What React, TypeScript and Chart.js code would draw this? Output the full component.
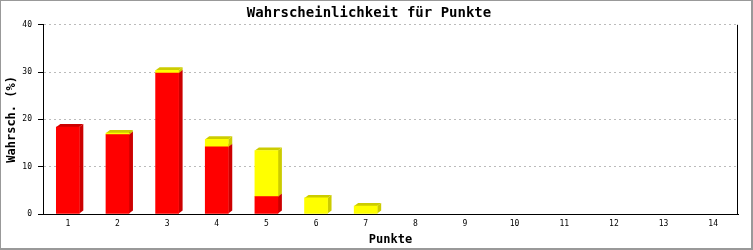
import React, { useEffect, useRef } from "react";
import { Chart, registerables } from "chart.js";

Chart.register(...registerables);

const categories = ["1", "2", "3", "4", "5", "6", "7", "8", "9", "10", "11", "12", "13", "14"];
const redValues = [18.4, 16.8, 29.8, 14.2, 3.7, 0, 0, 0, 0, 0, 0, 0, 0, 0];
const yellowValues = [0, 0.3, 0.6, 1.6, 9.7, 3.4, 1.7, 0, 0, 0, 0, 0, 0, 0];
const yTicks = [0, 10, 20, 30, 40];

const titleText = "Wahrscheinlichkeit für Punkte";
const xTitle = "Punkte";
const yTitle = "Wahrsch. (%)";

const frontColors = ["#ff0000", "#ffff00"];
const darkColors = ["#cc0000", "#cccc00"];

const MONO = "'DejaVu Sans Mono', 'Liberation Mono', monospace";

const nonZero = (arr: number[]) => arr.map((v) => (v === 0 ? null : v));

const frame3d = {
  id: "frame3d",
  beforeDraw(chart: any) {
    const ctx = chart.ctx;
    ctx.save();
    ctx.fillStyle = "#ffffff";
    ctx.fillRect(0, 0, chart.width, chart.height);
    ctx.restore();
  },
  beforeDatasetsDraw(chart: any) {
    const ctx = chart.ctx;
    const dx = 4;
    const dy = 3;
    const n = chart.data.labels.length;
    ctx.save();
    for (let i = 0; i < n; i++) {
      for (let d = 0; d < chart.data.datasets.length; d++) {
        const meta = chart.getDatasetMeta(d);
        const el = meta.data[i];
        if (!el) continue;
        const p = el.getProps(["x", "y", "base", "width"], true);
        if (!isFinite(p.y) || !isFinite(p.base) || !isFinite(p.x)) continue;
        const top = Math.min(p.y, p.base);
        const bottom = Math.max(p.y, p.base);
        if (bottom - top < 0.5) continue;
        const left = p.x - p.width / 2;
        const right = p.x + p.width / 2;
        ctx.fillStyle = darkColors[d];
        ctx.beginPath();
        ctx.moveTo(right, top);
        ctx.lineTo(right + dx, top - dy);
        ctx.lineTo(right + dx, bottom - dy);
        ctx.lineTo(right, bottom);
        ctx.closePath();
        ctx.fill();
        ctx.beginPath();
        ctx.moveTo(left, top);
        ctx.lineTo(left + dx, top - dy);
        ctx.lineTo(right + dx, top - dy);
        ctx.lineTo(right, top);
        ctx.closePath();
        ctx.fill();
      }
    }
    ctx.restore();
  },
  afterDraw(chart: any) {
    const ctx = chart.ctx;
    const a = chart.chartArea;
    ctx.save();
    ctx.strokeStyle = "#000000";
    ctx.lineWidth = 1;
    ctx.beginPath();
    ctx.moveTo(Math.round(a.right) - 0.5, a.top);
    ctx.lineTo(Math.round(a.right) - 0.5, a.bottom);
    ctx.stroke();
    ctx.fillStyle = "#999999";
    const w = chart.width;
    const h = chart.height;
    ctx.fillRect(0, 0, w, 1);
    ctx.fillRect(0, 0, 1, h);
    ctx.fillRect(w - 2, 0, 2, h);
    ctx.fillRect(0, h - 2, w, 2);
    ctx.restore();
  },
};

export default function App() {
  const ref = useRef<HTMLCanvasElement | null>(null);

  useEffect(() => {
    if (!ref.current) return;
    const chart = new Chart(ref.current, {
      type: "bar",
      data: {
        labels: categories,
        datasets: [
          { data: nonZero(redValues), backgroundColor: frontColors[0], borderWidth: 0, barThickness: 23 },
          { data: nonZero(yellowValues), backgroundColor: frontColors[1], borderWidth: 0, barThickness: 23 },
        ],
      },
      options: {
        responsive: false,
        animation: false,
        layout: { padding: { left: 0, right: 15, top: 0, bottom: 0 } },
        plugins: {
          legend: { display: false },
          tooltip: { enabled: false },
          title: {
            display: true,
            text: titleText,
            color: "#000000",
            font: { family: MONO, size: 14, weight: "bold", lineHeight: 1.2 },
            padding: { top: 5, bottom: 3 },
          },
        },
        scales: {
          x: {
            stacked: true,
            grid: { display: false, drawTicks: false },
            border: { display: true, color: "#000000", width: 1 },
            ticks: {
              color: "#000000",
              font: { family: MONO, size: 8 },
              padding: 5,
              maxRotation: 0,
              autoSkip: false,
            },
            title: {
              display: true,
              text: xTitle,
              color: "#000000",
              font: { family: MONO, size: 12, weight: "bold", lineHeight: 1.2 },
              padding: { top: 0, bottom: 3 },
            },
            afterFit: (s: any) => {
              s.height = 36;
            },
          },
          y: {
            stacked: true,
            min: yTicks[0],
            max: yTicks[yTicks.length - 1],
            grid: {
              color: (c: any) => (c.tick && c.tick.value === 0 ? "rgba(0,0,0,0)" : "#bbbbbb"),
              tickColor: "#000000",
              tickLength: 5,
              lineWidth: 1,
            },
            border: { display: true, color: "#000000", width: 1, dash: [2, 3] },
            ticks: {
              stepSize: yTicks[1] - yTicks[0],
              color: "#000000",
              font: { family: MONO, size: 8 },
              padding: 6,
            },
            title: {
              display: true,
              text: yTitle,
              color: "#000000",
              font: { family: MONO, size: 12, weight: "bold", lineHeight: 1.2 },
              padding: { top: 5, bottom: 0 },
            },
            afterFit: (s: any) => {
              s.width = 43;
            },
          },
        },
      },
      plugins: [frame3d],
    } as any);
    return () => chart.destroy();
  }, []);

  return (
    <div style={{ position: "fixed", left: 0, top: 0, width: 753, height: 250 }}>
      <canvas ref={ref} width={753} height={250} style={{ display: "block" }} />
    </div>
  );
}
